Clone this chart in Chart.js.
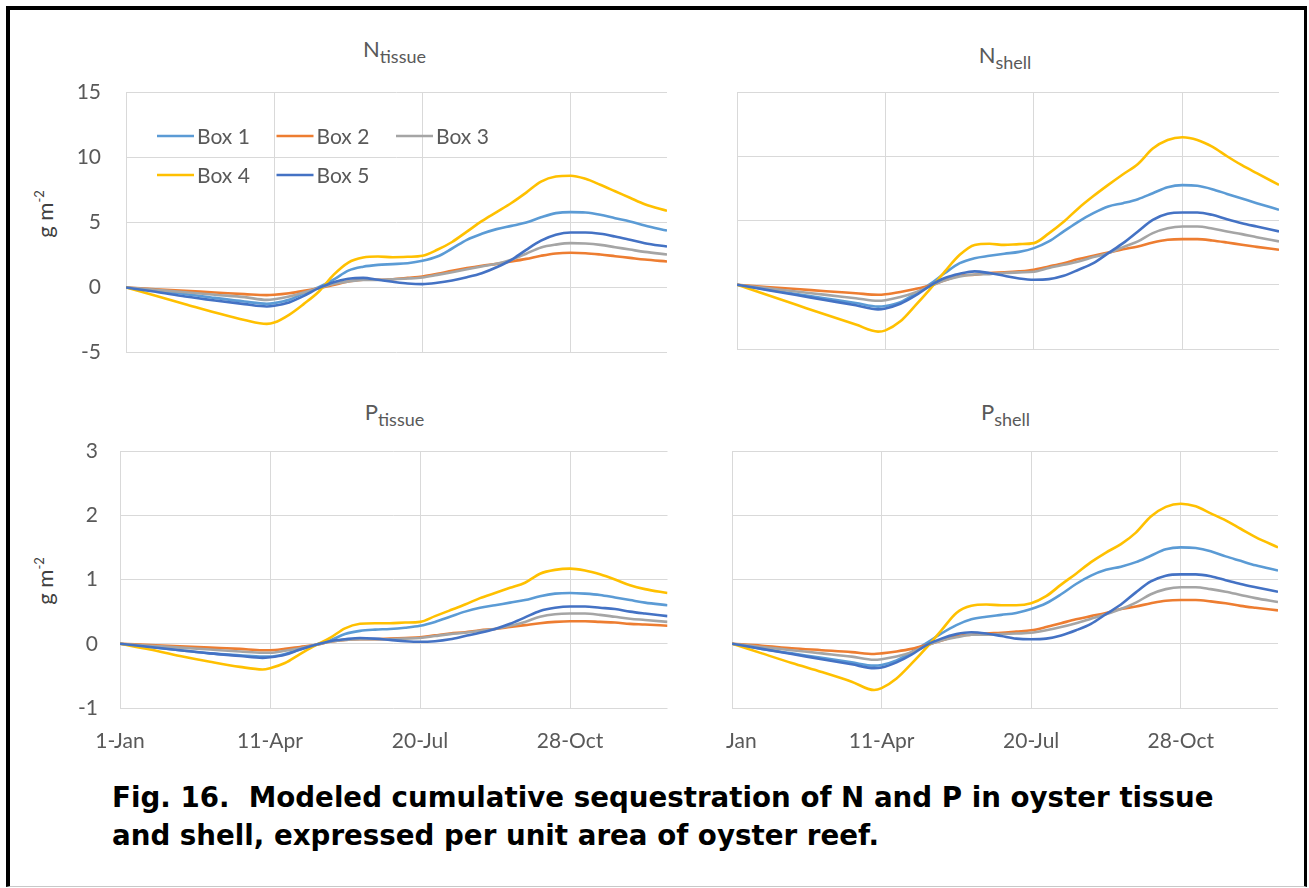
<!DOCTYPE html>
<html>
<head>
<meta charset="utf-8">
<script src="https://cdn.jsdelivr.net/npm/chart.js@4.4.1/dist/chart.umd.min.js"></script>
<style>
html,body{margin:0;padding:0;background:#fff;}
body{width:1309px;height:888px;position:relative;overflow:hidden;font-family:Lato,sans-serif;}
.frame{position:absolute;left:6px;top:6px;width:1301px;height:881px;box-sizing:border-box;
  border-left:4px solid #000;border-top:4px solid #000;border-right:3px solid #000;border-bottom:1px solid #c8c8c8;}
.title{position:absolute;width:200px;text-align:center;font-size:22px;line-height:22px;color:#595959;white-space:nowrap;}
.title .sub{font-size:18px;position:relative;top:6px;}
.ylab{position:absolute;font-size:22px;line-height:22px;color:#404040;white-space:nowrap;transform:translate(-50%,-50%) rotate(-90deg);}
.ylab sup{font-size:13px;vertical-align:9px;line-height:0;}
.clip{position:absolute;overflow:hidden;}
canvas{position:absolute;}
.caption{position:absolute;left:112px;top:779px;font-family:"DejaVu Sans",sans-serif;font-weight:bold;font-size:27.7px;line-height:38px;color:#000;white-space:nowrap;}
</style>
</head>
<body>
<div class="frame"></div>

<div class="title" style="left:294.5px;top:37.5px">N<span class="sub">tissue</span></div>
<div class="title" style="left:905px;top:43.5px">N<span class="sub">shell</span></div>
<div class="title" style="left:294.5px;top:400.5px">P<span class="sub">tissue</span></div>
<div class="title" style="left:905.5px;top:401px">P<span class="sub">shell</span></div>

<div class="ylab" style="left:45px;top:214px">g m<sup>-2</sup></div>
<div class="ylab" style="left:45px;top:581px">g m<sup>-2</sup></div>

<canvas id="c1" width="680" height="290" style="left:0px;top:80px"></canvas>
<div class="clip" style="left:716px;top:80px;width:590px;height:290px">
  <canvas id="c2" width="680" height="290" style="left:-105px;top:0px"></canvas>
</div>
<canvas id="c3" width="680" height="330" style="left:0px;top:440px"></canvas>
<div class="clip" style="left:726px;top:440px;width:580px;height:330px">
  <canvas id="c4" width="680" height="330" style="left:-120px;top:0px"></canvas>
</div>

<div class="caption">Fig. 16.&nbsp; Modeled cumulative sequestration of N and P in oyster tissue<br>and shell, expressed per unit area of oyster reef.</div>

<script>
// ---- data ----
const days = [0,20,40,60,80,95,100,110,120,130,140,150,160,170,180,190,200,210,220,230,240,250,260,270,280,290,300,310,320,330,340,350,365];
const tickDays = [0,100,200,300];
const dateLabels = ['1-Jan','11-Apr','20-Jul','28-Oct'];
const boxNames = ['Box 1','Box 2','Box 3','Box 4','Box 5'];
const nTicks = [-5,0,5,10,15];
const pTicks = [-1,0,1,2,3];

const nTissueBox1 = [0,-0.25,-0.5,-0.8,-1.08,-1.25,-1.2,-0.95,-0.44,0.02,0.6,1.3,1.6,1.74,1.8,1.87,2.05,2.38,3.0,3.67,4.13,4.49,4.74,5.0,5.4,5.72,5.8,5.77,5.6,5.33,5.08,4.77,4.38];
const nTissueBox2 = [0,-0.13,-0.26,-0.38,-0.51,-0.59,-0.56,-0.44,-0.26,-0.05,0.2,0.46,0.6,0.6,0.64,0.74,0.85,1.05,1.28,1.49,1.67,1.82,2.0,2.2,2.44,2.62,2.67,2.64,2.54,2.41,2.28,2.15,2.0];
const nTissueBox3 = [0,-0.18,-0.36,-0.56,-0.74,-0.95,-0.9,-0.7,-0.38,-0.05,0.28,0.46,0.59,0.59,0.64,0.69,0.77,0.97,1.18,1.41,1.62,1.82,2.13,2.6,3.08,3.3,3.41,3.38,3.28,3.1,2.92,2.74,2.54];
const nTissueBox4 = [0,-0.64,-1.28,-1.92,-2.5,-2.8,-2.7,-2.1,-1.26,-0.33,0.97,1.92,2.3,2.38,2.33,2.36,2.44,2.9,3.5,4.3,5.1,5.8,6.5,7.3,8.15,8.54,8.6,8.36,7.9,7.4,6.9,6.4,5.9];
const nTissueBox5 = [0,-0.33,-0.69,-1.0,-1.28,-1.46,-1.41,-1.15,-0.64,-0.05,0.41,0.67,0.74,0.59,0.44,0.31,0.26,0.36,0.54,0.79,1.1,1.56,2.13,2.9,3.6,4.05,4.23,4.23,4.13,3.92,3.67,3.41,3.15];

const nShellBox1 = [0,-0.36,-0.72,-1.08,-1.42,-1.7,-1.65,-1.35,-0.7,0.05,0.91,1.68,2.07,2.25,2.41,2.56,2.85,3.37,4.15,4.92,5.57,6.09,6.35,6.66,7.12,7.59,7.75,7.7,7.44,7.07,6.71,6.35,5.83];
const nShellBox2 = [0,-0.17,-0.33,-0.5,-0.66,-0.78,-0.74,-0.56,-0.33,-0.05,0.34,0.7,0.78,0.91,0.96,1.04,1.17,1.42,1.68,2.0,2.25,2.51,2.77,2.98,3.29,3.5,3.55,3.55,3.45,3.29,3.11,2.95,2.72];
const nShellBox3 = [0,-0.26,-0.52,-0.79,-1.05,-1.25,-1.2,-0.96,-0.6,-0.13,0.34,0.65,0.8,0.83,0.91,0.96,1.01,1.3,1.55,1.81,2.15,2.46,2.93,3.37,4.02,4.4,4.53,4.53,4.38,4.15,3.94,3.7,3.37];
const nShellBox4 = [0,-0.78,-1.56,-2.34,-3.1,-3.65,-3.55,-2.85,-1.63,-0.34,1.04,2.33,3.1,3.19,3.1,3.16,3.24,4.0,4.9,5.96,6.9,7.77,8.6,9.4,10.6,11.27,11.48,11.27,10.75,10.0,9.3,8.68,7.77];
const nShellBox5 = [0,-0.4,-0.8,-1.2,-1.6,-1.92,-1.84,-1.48,-0.85,-0.08,0.52,0.85,1.04,0.91,0.7,0.49,0.39,0.44,0.7,1.17,1.68,2.46,3.24,4.15,5.05,5.52,5.62,5.62,5.44,5.1,4.79,4.53,4.15];

const pTissueBox1 = [0,-0.05,-0.1,-0.15,-0.18,-0.2,-0.2,-0.16,-0.09,-0.02,0.05,0.15,0.2,0.22,0.23,0.25,0.28,0.34,0.42,0.5,0.56,0.6,0.64,0.68,0.74,0.78,0.79,0.78,0.76,0.72,0.68,0.64,0.6];
const pTissueBox2 = [0,-0.02,-0.04,-0.06,-0.08,-0.1,-0.1,-0.08,-0.05,-0.02,0.03,0.06,0.07,0.07,0.08,0.09,0.1,0.13,0.16,0.18,0.21,0.23,0.26,0.29,0.32,0.34,0.35,0.35,0.34,0.33,0.31,0.3,0.28];
const pTissueBox3 = [0,-0.03,-0.06,-0.09,-0.12,-0.14,-0.14,-0.11,-0.07,-0.02,0.03,0.06,0.07,0.07,0.07,0.08,0.09,0.12,0.15,0.17,0.2,0.23,0.28,0.34,0.42,0.46,0.47,0.47,0.45,0.42,0.39,0.37,0.34];
const pTissueBox4 = [0,-0.09,-0.19,-0.28,-0.36,-0.4,-0.38,-0.3,-0.16,-0.03,0.09,0.24,0.31,0.32,0.32,0.33,0.34,0.43,0.52,0.61,0.71,0.79,0.87,0.95,1.09,1.15,1.17,1.14,1.08,1.0,0.91,0.85,0.79];
const pTissueBox5 = [0,-0.05,-0.1,-0.15,-0.19,-0.22,-0.21,-0.17,-0.09,-0.02,0.04,0.07,0.09,0.08,0.06,0.04,0.03,0.04,0.07,0.12,0.17,0.23,0.31,0.41,0.51,0.56,0.58,0.58,0.56,0.54,0.5,0.47,0.43];

const pShellBox1 = [0,-0.08,-0.15,-0.22,-0.29,-0.34,-0.33,-0.26,-0.13,0.01,0.16,0.29,0.38,0.42,0.45,0.48,0.54,0.63,0.77,0.93,1.06,1.15,1.2,1.27,1.37,1.47,1.5,1.49,1.44,1.36,1.29,1.22,1.14];
const pShellBox2 = [0,-0.03,-0.07,-0.1,-0.13,-0.16,-0.15,-0.12,-0.08,-0.02,0.05,0.12,0.14,0.16,0.17,0.19,0.21,0.26,0.32,0.38,0.43,0.48,0.54,0.58,0.63,0.67,0.68,0.68,0.66,0.63,0.59,0.56,0.52];
const pShellBox3 = [0,-0.05,-0.1,-0.15,-0.2,-0.25,-0.24,-0.2,-0.13,-0.03,0.05,0.1,0.14,0.14,0.15,0.16,0.17,0.21,0.26,0.32,0.39,0.46,0.54,0.64,0.77,0.85,0.88,0.88,0.85,0.81,0.76,0.71,0.65];
const pShellBox4 = [0,-0.15,-0.3,-0.44,-0.59,-0.72,-0.69,-0.54,-0.31,-0.06,0.21,0.48,0.59,0.61,0.6,0.6,0.63,0.74,0.92,1.09,1.27,1.42,1.55,1.73,1.98,2.13,2.18,2.14,2.03,1.92,1.79,1.66,1.5];
const pShellBox5 = [0,-0.08,-0.16,-0.24,-0.32,-0.38,-0.37,-0.29,-0.17,-0.02,0.08,0.15,0.18,0.16,0.12,0.08,0.07,0.08,0.13,0.21,0.31,0.46,0.61,0.8,0.97,1.06,1.08,1.08,1.05,0.99,0.93,0.88,0.81];

// ---- styles ----
const boxColors = ['#5B9BD5','#ED7D31','#A5A5A5','#FFC000','#4472C4'];
const textGray = '#595959';
const gridGray = '#d9d9d9';
const tickFont = {family:'Lato', size:21};

const legendPlugin = {
  id:'boxLegend',
  afterDraw(chart, args, o){
    if(!o || !o.show) return;
    const ctx = chart.ctx, a = chart.chartArea;
    ctx.save();
    ctx.font = '21px Lato';
    ctx.textBaseline = 'middle';
    ctx.textAlign = 'left';
    chart.data.datasets.forEach((ds,i)=>{
      const col = i < 3 ? i : i - 3;
      const row = i < 3 ? 0 : 1;
      const x = a.left + 31 + col*119.5;
      const y = a.top + 43.5 + row*39;
      ctx.strokeStyle = ds.borderColor;
      ctx.lineWidth = 2.5;
      ctx.beginPath(); ctx.moveTo(x, y); ctx.lineTo(x + 37, y); ctx.stroke();
      ctx.fillStyle = textGray;
      ctx.fillText(ds.label, x + 40, y + 1);
    });
    ctx.restore();
  }
};

function buildChart(id, series, yTicks, L, showX, showLegend){
  const datasets = series.map((vals,i)=>({
    label: boxNames[i],
    data: days.map((d,j)=>({x:d, y:vals[j]})),
    borderColor: boxColors[i],
    backgroundColor: boxColors[i],
    borderWidth: 2.6,
    pointRadius: 0,
    fill: false,
    cubicInterpolationMode: 'monotone',
    order: series.length - i
  }));
  return new Chart(document.getElementById(id), {
    type: 'line',
    data: {datasets},
    options: {
      responsive: false, animation: false, devicePixelRatio: 1,
      layout: {padding: {left: 0, top: L.pt, right: L.pr, bottom: 0}},
      plugins: {legend: {display: false}, tooltip: {enabled: false}, boxLegend: {show: showLegend}},
      scales: {
        x: {
          type: 'linear', min: 0, max: 365,
          afterBuildTicks: s => { s.ticks = tickDays.map(v => ({value: v})); },
          afterFit: s => { s.height = L.xh; s.paddingLeft = 0; s.paddingRight = 0; },
          grid: {color: gridGray, lineWidth: 1, drawTicks: false},
          border: {display: false},
          ticks: {display: showX, autoSkip: false, maxRotation: 0, padding: 21, color: textGray, font: tickFont,
                  callback: v => dateLabels[tickDays.indexOf(v)]}
        },
        y: {
          min: yTicks[0], max: yTicks[yTicks.length-1],
          afterBuildTicks: s => { s.ticks = yTicks.map(v => ({value: v})); },
          afterFit: s => { s.width = L.yw; s.paddingTop = 0; s.paddingBottom = 0; },
          grid: {color: gridGray, lineWidth: 1, drawTicks: false},
          border: {display: false},
          ticks: {padding: L.yp, color: textGray, font: tickFont, callback: v => String(v)}
        }
      }
    },
    plugins: [legendPlugin]
  });
}

buildChart('c1', [nTissueBox1,nTissueBox2,nTissueBox3,nTissueBox4,nTissueBox5], nTicks,
  {yw:126, yp:25, pt:12.5, pr:13, xh:17.5}, false, true);
buildChart('c2', [nShellBox1,nShellBox2,nShellBox3,nShellBox4,nShellBox5], nTicks,
  {yw:126, yp:25, pt:12, pr:12, xh:21}, false, false);
buildChart('c3', [pTissueBox1,pTissueBox2,pTissueBox3,pTissueBox4,pTissueBox5], pTicks,
  {yw:120, yp:22, pt:11, pr:12.5, xh:62}, true, false);
buildChart('c4', [pShellBox1,pShellBox2,pShellBox3,pShellBox4,pShellBox5], pTicks,
  {yw:126, yp:25, pt:11, pr:8, xh:62}, true, false);
</script>
</body>
</html>
